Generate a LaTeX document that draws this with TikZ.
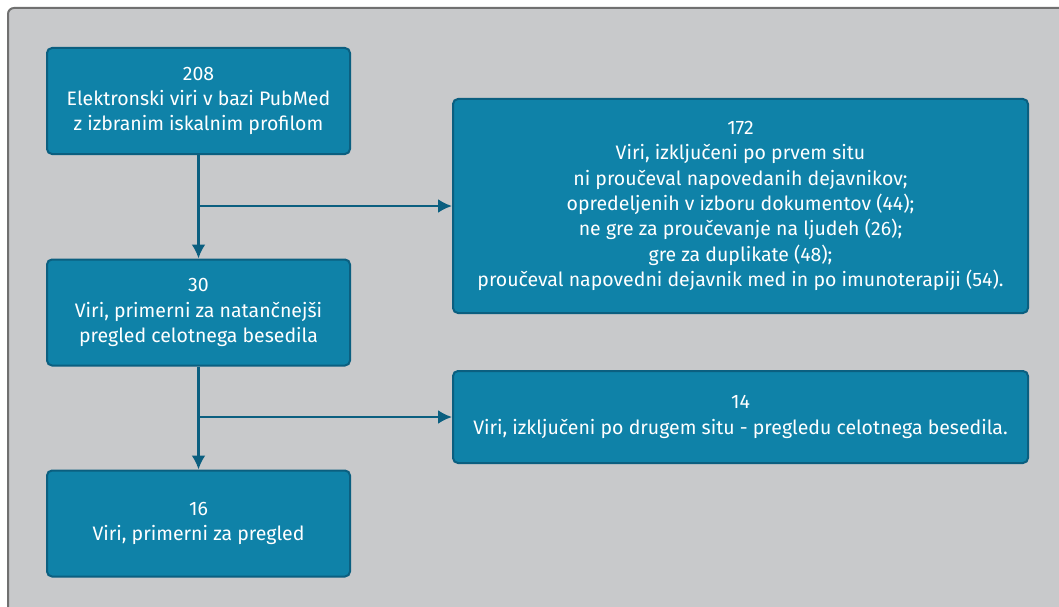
\documentclass[tikz,border=0pt]{standalone}
\usepackage{fontspec}
\setmainfont{Fira Sans}
\usetikzlibrary{arrows.meta}
\definecolor{boxfill}{HTML}{0F82A8}
\definecolor{boxline}{HTML}{0B5F80}
\definecolor{panelfill}{HTML}{C8C9CB}
\definecolor{panelline}{HTML}{707070}

\begin{document}
\begin{tikzpicture}[x=1pt,y=-1pt,
  stepbox/.style={draw=boxline,line width=2pt,fill=boxfill,rounded corners=5pt,
    text=white,align=center,font=\fontsize{19.5}{25.3}\selectfont,inner sep=0pt},
  leftbox/.style={stepbox,minimum width=303pt,minimum height=106pt},
  rightbox/.style={stepbox,minimum width=575pt},
  flow/.style={draw=boxline,line width=2.5pt,-{Latex[length=14pt,width=14pt]}}]
\clip (0,0) rectangle (1059,607);
% grey panel behind everything
\draw[panelline,fill=panelfill,line width=2pt,rounded corners=6pt] (8,8) rectangle (1075,625);
% left column
\node[leftbox] (pubmed) at (198.5,101) {208\\Elektronski viri v bazi PubMed\\z izbranim iskalnim profilom};
\node[leftbox] (fulltext) at (198.5,312.5) {30\\Viri, primerni za natančnejši\\pregled celotnega besedila};
\node[leftbox] (review) at (198.5,523.5) {16\\Viri, primerni za pregled};
% right column
\node[rightbox,minimum height=214pt] (excl1) at (740.5,206) {172\\Viri, izključeni po prvem situ\\ni proučeval napovedanih dejavnikov;\\opredeljenih v izboru dokumentov (44);\\ne gre za proučevanje na ljudeh (26);\\gre za duplikate (48);\\proučeval napovedni dejavnik med in po imunoterapiji (54).};
\node[rightbox,minimum height=92pt] (excl2) at (740.5,417) {14\\Viri, izključeni po drugem situ - pregledu celotnega besedila.};
% arrows
\draw[flow] (pubmed) -- (fulltext);
\draw[flow] (pubmed.south |- excl1.west) -- (excl1.west);
\draw[flow] (fulltext) -- (review);
\draw[flow] (fulltext.south |- excl2.west) -- (excl2.west);
\end{tikzpicture}
\end{document}
